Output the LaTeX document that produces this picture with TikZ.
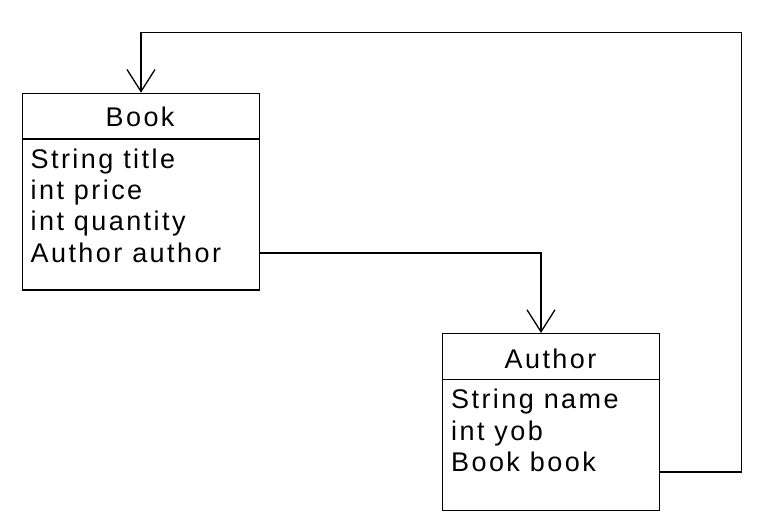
\documentclass[tikz,border=0pt]{standalone}
\usepackage{fontspec}
\setmainfont{Liberation Sans}[LetterSpace=9]
\usetikzlibrary{arrows.meta}
\begin{document}
\begin{tikzpicture}[x=1pt,y=-1pt,
  box/.style={draw,line width=1.3pt,rectangle,anchor=north west,inner sep=0pt},
  lbl/.style={anchor=base west,inner sep=0pt,font=\fontsize{27}{32}\selectfont},
  ttl/.style={anchor=base,inner sep=0pt,font=\fontsize{27}{32}\selectfont},
  conn/.style={line width=1.3pt},
  arr/.style={conn,-{Straight Barb[length=22pt,width=28pt,line width=1.3pt]}}]
\useasboundingbox (0,0) rectangle (769,529);
% Book
\node[box,minimum width=236.8pt,minimum height=196.8pt] (book) at (21.7,92.7) {};
\draw[conn] (book.west |- 0,139) -- (book.east |- 0,139);
\node[ttl] (bookt) at (140.1,126.7) {Book};
\node[lbl] (b1) at (30.5,168.3) {String title};
\node[lbl] (b2) at (30.5,199.6) {int price};
\node[lbl] (b3) at (30.5,230.9) {int quantity};
\node[lbl] (b4) at (30.5,262.2) {Author author};
% Author
\node[box,minimum width=217pt,minimum height=176.5pt] (author) at (442,333) {};
\draw[conn] (author.west |- 0,379.5) -- (author.east |- 0,379.5);
\node[ttl] (autht) at (550.5,368.3) {Author};
\node[lbl] (a1) at (451,409) {String name};
\node[lbl] (a2) at (451,440.3) {int yob};
\node[lbl] (a3) at (451,471.6) {Book book};
% connectors
\coordinate (bout) at (book.east |- 0,253);
\coordinate (ain) at (541,333);
\draw[arr] (bout) -| (ain);
\coordinate (aout) at (author.east |- 0,472);
\coordinate (corner) at (741.7,32.7);
\coordinate (bin) at (141,92.7);
\draw[arr] (aout) -| (corner) -| (bin);
\end{tikzpicture}
\end{document}
